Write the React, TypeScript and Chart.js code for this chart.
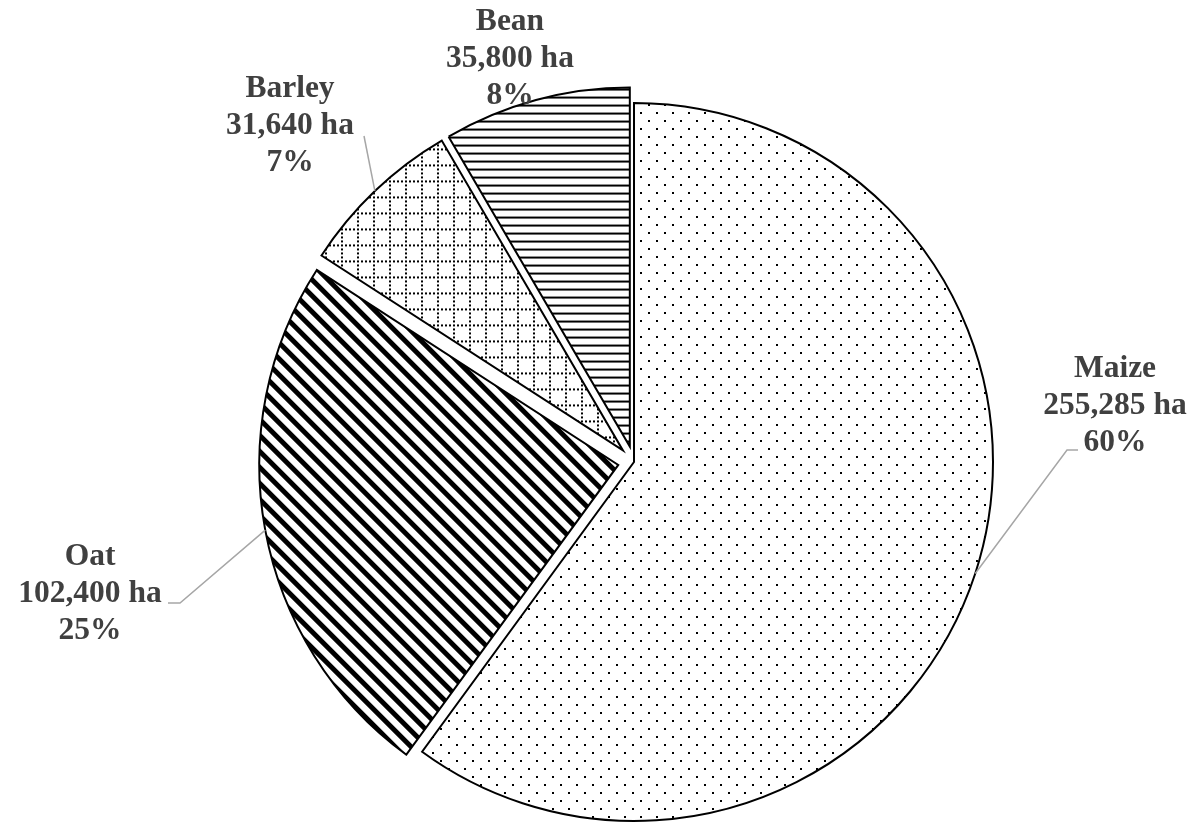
import React, { useEffect, useRef } from 'react';
import { Chart, registerables } from 'chart.js';

Chart.register(...registerables);

// Cropped area by crop (hectares), drawn clockwise from 12 o'clock
const crops = ['Maize', 'Oat', 'Barley', 'Bean'];
const areaHa = [255285, 102400, 31640, 35800];
const shareLabels = ['60%', '25%', '7%', '8%'];

const W = 1196;
const H = 824;

// How far each slice is pulled out of the pie, in pixels
const explodePx = [0, 16, 16, 16];

// Label blocks: centre x, first baseline, and the leader-line bend points
const labelLayout = [
  { x: 1115, y: 377, path: [[1067, 450], [1078, 450]] },
  { x: 90, y: 565, path: [[180, 603], [168, 603]] },
  { x: 290, y: 97, path: [[364, 136]] },
  { x: 510, y: 30, path: [] as number[][] },
];
const LINE_H = 37;
const LABEL_FONT = 'bold 31.5px "Liberation Serif", "Times New Roman", serif';
const LABEL_COLOR = '#404040';
const LEADER_COLOR = '#a6a6a6';

type InkFn = (x: number, y: number) => boolean;

function makePattern(ctx: CanvasRenderingContext2D, w: number, h: number, ink: InkFn): CanvasPattern {
  const c = document.createElement('canvas');
  c.width = w;
  c.height = h;
  const g = c.getContext('2d')!;
  const img = g.createImageData(w, h);
  for (let y = 0; y < h; y++) {
    for (let x = 0; x < w; x++) {
      const v = ink(x, y) ? 0 : 255;
      const k = (y * w + x) * 4;
      img.data[k] = v;
      img.data[k + 1] = v;
      img.data[k + 2] = v;
      img.data[k + 3] = 255;
    }
  }
  g.putImageData(img, 0, 0);
  return ctx.createPattern(c, 'repeat')!;
}

function slicePatterns(ctx: CanvasRenderingContext2D): CanvasPattern[] {
  // Maize: sparse staggered dots
  const dots = makePattern(ctx, 16, 16, (x, y) =>
    (x < 2 && y < 2) || (x >= 8 && x < 10 && y >= 8 && y < 10));
  // Oat: wide downward diagonal stripes
  const diag = makePattern(ctx, 16, 16, (x, y) => ((x - y + 32) % 16) < 7);
  // Barley: dotted grid
  const grid = makePattern(ctx, 16, 16, (x, y) =>
    (y < 2 && x % 4 < 2) || (x < 2 && y % 4 < 2));
  // Bean: horizontal lines
  const horiz = makePattern(ctx, 8, 8, (_x, y) => y < 2);
  return [dots, diag, grid, horiz];
}

const explodedSlices = {
  id: 'explodedSlices',
  beforeDatasetDraw(chart: any, args: any) {
    const ctx: CanvasRenderingContext2D = chart.ctx;
    args.meta.data.forEach((arc: any, i: number) => {
      const mid = (arc.startAngle + arc.endAngle) / 2;
      const d = explodePx[i] || 0;
      ctx.save();
      ctx.translate(Math.cos(mid) * d, Math.sin(mid) * d);
      arc.draw(ctx);
      ctx.restore();
    });
    return false;
  },
};

const sliceLabels = {
  id: 'sliceLabels',
  afterDatasetsDraw(chart: any) {
    const ctx: CanvasRenderingContext2D = chart.ctx;
    const arcs = chart.getDatasetMeta(0).data;
    ctx.save();
    // leader lines from the middle of each slice's rim
    ctx.strokeStyle = LEADER_COLOR;
    ctx.lineWidth = 1.5;
    arcs.forEach((arc: any, i: number) => {
      const lay = labelLayout[i];
      if (!lay.path.length) return;
      const mid = (arc.startAngle + arc.endAngle) / 2;
      const r = arc.outerRadius + (explodePx[i] || 0);
      ctx.beginPath();
      ctx.moveTo(arc.x + Math.cos(mid) * r, arc.y + Math.sin(mid) * r);
      lay.path.forEach(([px, py]) => ctx.lineTo(px, py));
      ctx.stroke();
    });
    ctx.font = LABEL_FONT;
    ctx.fillStyle = LABEL_COLOR;
    ctx.textAlign = 'center';
    ctx.textBaseline = 'alphabetic';
    crops.forEach((name, i) => {
      const lay = labelLayout[i];
      const lines = [name, `${areaHa[i].toLocaleString('en-US')} ha`, shareLabels[i]];
      lines.forEach((t, k) => ctx.fillText(t, lay.x, lay.y + k * LINE_H));
    });
    ctx.restore();
  },
};

export default function App() {
  const canvasRef = useRef<HTMLCanvasElement | null>(null);

  useEffect(() => {
    const canvas = canvasRef.current;
    if (!canvas) return;
    const ctx = canvas.getContext('2d')!;
    const fills = slicePatterns(ctx);
    const chart = new Chart(canvas, {
      type: 'pie',
      data: {
        labels: crops,
        datasets: [
          {
            data: areaHa,
            backgroundColor: fills,
            borderColor: '#000000',
            borderWidth: 2,
            borderJoinStyle: 'miter',
          } as any,
        ],
      },
      options: {
        responsive: false,
        devicePixelRatio: 1,
        animation: false,
        events: [],
        radius: 359,
        layout: { padding: { left: 72, right: 0, top: 100, bottom: 0 } },
        plugins: {
          legend: { display: false },
          tooltip: { enabled: false },
        },
      } as any,
      plugins: [explodedSlices, sliceLabels],
    });
    return () => chart.destroy();
  }, []);

  return (
    <div style={{ position: 'absolute', left: 0, top: 0, width: W, height: H, background: '#ffffff' }}>
      <canvas ref={canvasRef} width={W} height={H} style={{ display: 'block' }} />
    </div>
  );
}
